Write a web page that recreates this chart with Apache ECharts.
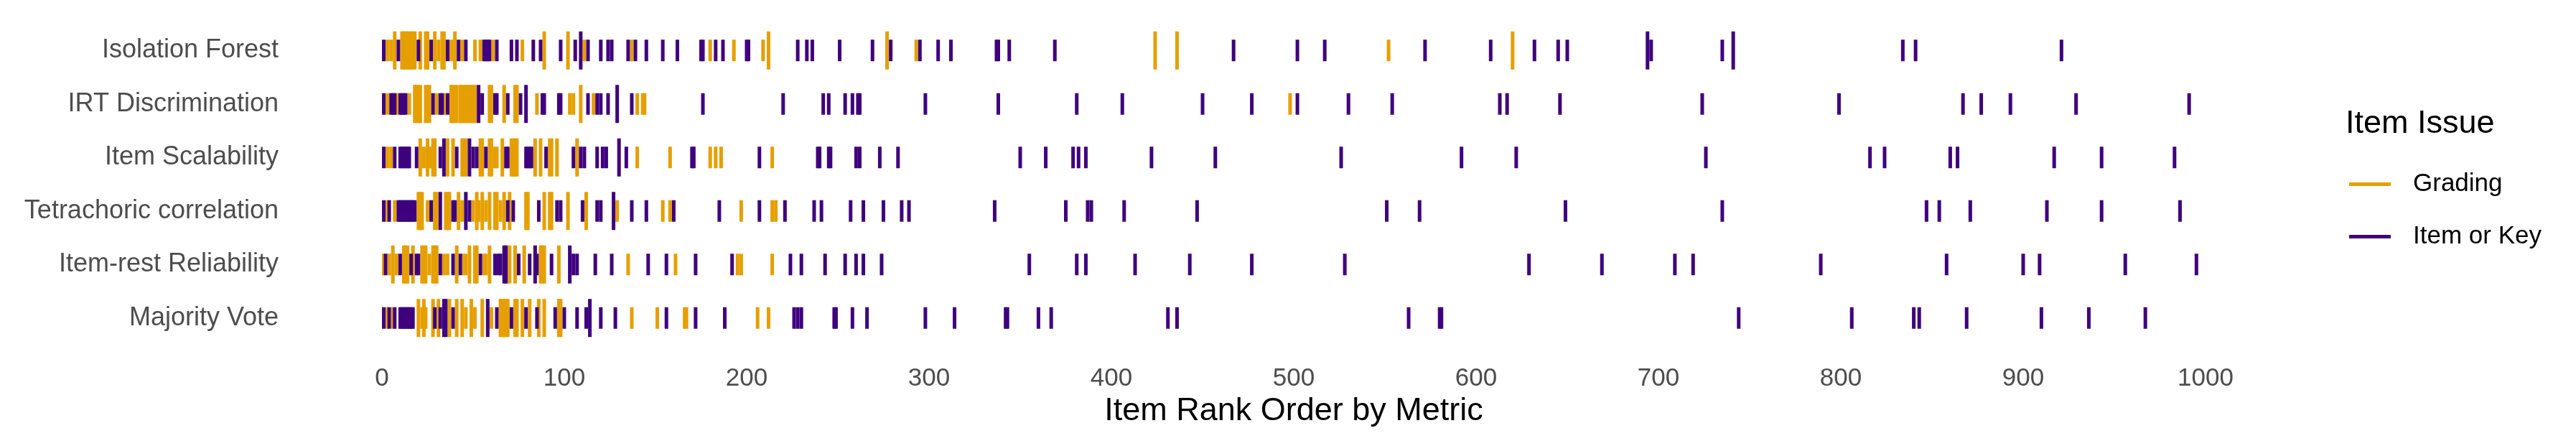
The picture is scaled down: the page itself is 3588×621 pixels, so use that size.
<!DOCTYPE html>
<html>
<head>
<meta charset="utf-8">
<script src="https://cdn.jsdelivr.net/npm/echarts@6/dist/echarts.min.js"></script>
<style>
html,body{margin:0;padding:0;background:#fff;}
#chart{width:3588px;height:621px;}
</style>
</head>
<body>
<div id="chart"></div>
<script>
// ---------- DATA ----------
const categories = ['Isolation Forest','IRT Discrimination','Item Scalability','Tetrachoric correlation','Item-rest Reliability','Majority Vote'];
const issueTypes = ['Grading','Item or Key'];
const xTickLabels = [0,100,200,300,400,500,600,700,800,900,1000];

// Isolation Forest
const isoGrading = [3,5,31,38,44,51,54,61,77,111,137,180,193,209,293,552];
const isoGradingTall = [7,11,12,13,14,15,16,17,18,21,24,25,29,33,34,40,89,102,212,277,424,436,620];
const isoItem = [1,9,20,27,36,42,46,56,57,58,59,63,71,74,83,87,98,106,113,120,124,126,135,139,145,154,162,175,176,183,187,200,201,228,233,236,251,269,279,295,305,312,337,338,344,369,467,502,517,572,608,632,645,650,696,735,834,841,921];
const isoItemTall = [109,694,741];

// IRT Discrimination
const irtGrading = [3,8,15,30,34,54,85,103,105,116,140,143,144,498];
const irtGradingTall = [18,19,20,21,24,25,26,38,39,40,41,43,44,45,46,47,48,49,50,51,59,60,67,73,74,109];
const irtItem = [1,5,6,7,10,11,12,13,28,32,33,36,55,62,63,69,76,88,89,97,98,113,118,120,124,137,176,220,242,245,254,258,261,262,298,338,381,406,450,477,502,530,554,613,617,646,724,799,867,877,893,929,991];
const irtItemTall = [53,79,129];

// Item Scalability
const scalGrading = [3,5,23,26,27,62,63,140,158,180,183,186,214];
const scalGradingTall = [21,25,28,29,36,39,44,45,46,54,55,59,60,66,71,72,73,74,84,87,92,93,96,107];
const scalItem = [1,7,10,11,12,13,14,15,19,32,41,50,52,57,68,69,79,80,81,82,90,105,109,111,118,121,123,134,170,171,207,239,240,245,246,260,262,273,283,350,364,379,382,386,422,457,526,592,622,726,816,824,860,864,917,943,983];
const scalItemTall = [34,48,130];

// Tetrachoric correlation
const tetraGrading = [3,7,25,44,50,53,57,65,129,154,158,197,214,216];
const tetraGradingTall = [20,21,22,29,30,35,36,37,42,52,55,59,62,63,67,70,79,80,89,92,93,102,112];
const tetraItem = [1,4,9,10,11,12,13,14,15,16,17,18,27,39,40,48,69,72,86,96,98,110,118,120,137,145,160,185,207,221,237,241,257,264,275,285,289,336,375,387,389,407,447,551,569,649,735,847,854,871,913,943,986];
const tetraItemTall = [32,46,127];

// Item-rest Reliability
const restGrading = [1,4,8,26,34,36,45,46,56,57,135,161,195,197,214];
const restGradingTall = [6,12,13,14,17,22,23,24,28,29,30,41,48,51,52,59,70,73,78,87,88,89,97];
const restItem = [2,10,16,19,20,32,39,43,54,62,64,65,75,81,85,93,105,107,117,126,146,156,172,192,224,230,243,254,260,264,274,355,381,386,413,443,477,528,629,669,709,719,789,858,900,909,956,995];
const restItemTall = [67,68,84,103];

// Majority Vote
const voteGrading = [3,6,22,24,46,51,60,137,151,166,167,206,212];
const voteGradingTall = [20,23,28,31,37,41,44,49,55,65,66,67,68,69,73,74,77,81,86,89,97,98];
const voteItem = [1,4,7,10,11,12,13,14,15,16,17,29,32,39,63,71,79,85,95,100,107,112,120,128,156,172,188,226,228,230,248,249,258,266,298,314,342,343,360,367,431,436,563,580,581,744,806,840,843,869,910,936,967];
const voteItemTall = [34,35,58,114];

// ---------- BUILD ----------
const gradingRows = [
  [isoGrading, isoGradingTall],[irtGrading, irtGradingTall],[scalGrading, scalGradingTall],
  [tetraGrading, tetraGradingTall],[restGrading, restGradingTall],[voteGrading, voteGradingTall]
];
const itemRows = [
  [isoItem, isoItemTall],[irtItem, irtItemTall],[scalItem, scalItemTall],
  [tetraItem, tetraItemTall],[restItem, restItemTall],[voteItem, voteItemTall]
];
function build(rows){
  const out = [];
  rows.forEach(function(pair, r){
    pair[0].forEach(function(v){ out.push([v, r, 0]); });
    pair[1].forEach(function(v){ out.push([v, r, 1]); });
  });
  return out;
}
const COLORS = {'Grading':'#E69F00','Item or Key':'#3F007D'};
function renderer(color){
  return function(params, api){
    const p = api.coord([api.value(0), api.value(1)]);
    const h = api.value(2) ? 53 : 30;
    const w = 5;
    return {type:'rect', shape:{x:p[0]-w/2, y:p[1]-h/2, width:w, height:h}, style:{fill:color}};
  };
}

const FONT = '"Liberation Sans", Arial, Helvetica, sans-serif';
const chart = echarts.init(document.getElementById('chart'), null, {renderer:'canvas'});
chart.setOption({
  backgroundColor:'#ffffff',
  animation:false,
  textStyle:{fontFamily:FONT},
  title:{
    text:'Item Issue', left:3262, top:145,
    textStyle:{fontFamily:FONT, fontSize:45, fontWeight:'normal', color:'#000000'}
  },
  legend:{
    data:issueTypes, orient:'vertical', left:3267, top:234,
    icon:'rect', itemWidth:58, itemHeight:5, itemGap:38,
    selectedMode:false,
    textStyle:{fontFamily:FONT, fontSize:35, color:'#000000', padding:[0,0,0,26]}
  },
  grid:{left:532, width:2540, top:33, height:447, containLabel:false},
  xAxis:{
    type:'value', min:0, max:1000, interval:100,
    name:'Item Rank Order by Metric', nameLocation:'middle', nameGap:64,
    nameTextStyle:{fontFamily:FONT, fontSize:45, color:'#000000'},
    axisLine:{show:false}, axisTick:{show:false}, splitLine:{show:false},
    axisLabel:{fontFamily:FONT, fontSize:35, color:'#4d4d4d', margin:30,
      formatter:function(v){ return xTickLabels.indexOf(v) >= 0 ? String(v) : ''; }}
  },
  yAxis:{
    type:'category', data:categories, inverse:true,
    axisLine:{show:false}, axisTick:{show:false}, splitLine:{show:false},
    axisLabel:{fontFamily:FONT, fontSize:36, color:'#4d4d4d', margin:144}
  },
  series:[
    {name:'Grading', type:'custom', renderItem:renderer(COLORS['Grading']), data:build(gradingRows),
     itemStyle:{color:COLORS['Grading']}, encode:{x:0, y:1}},
    {name:'Item or Key', type:'custom', renderItem:renderer(COLORS['Item or Key']), data:build(itemRows),
     itemStyle:{color:COLORS['Item or Key']}, encode:{x:0, y:1}}
  ]
});
</script>
</body>
</html>
